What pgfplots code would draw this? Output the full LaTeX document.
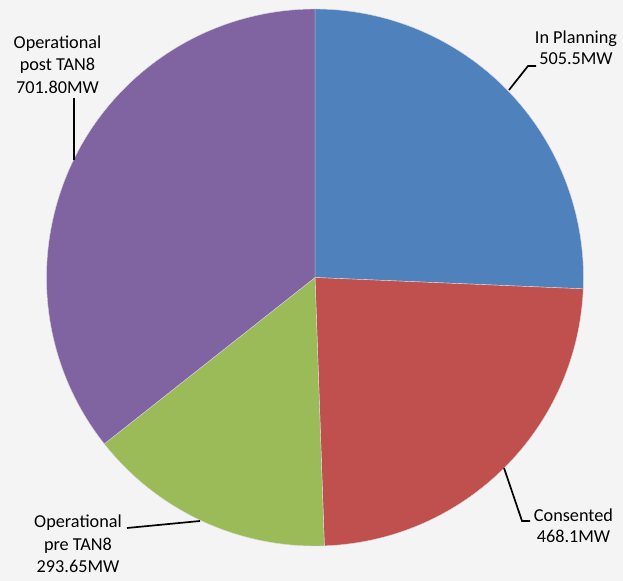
\documentclass[border=0pt]{standalone}
\usepackage{pgfplots}
\pgfplotsset{compat=1.18}
\usepackage{pgfplotstable}
\usepackage{fontspec}
\setmainfont{Carlito}

\definecolor{bgc}{HTML}{F4F4F4}
\definecolor{cPlan}{HTML}{4F81BD}
\definecolor{cCons}{HTML}{C0504D}
\definecolor{cPre}{HTML}{9BBB59}
\definecolor{cPost}{HTML}{8064A2}

% slices, clockwise from 12 o'clock
\pgfplotstableread{
label value
InPlanning 505.5
Consented 468.1
PreTAN8 293.65
PostTAN8 701.80
}\piedata
\pgfplotstablegetelem{0}{value}\of\piedata\let\vA\pgfplotsretval%
\pgfplotstablegetelem{1}{value}\of\piedata\let\vB\pgfplotsretval%
\pgfplotstablegetelem{2}{value}\of\piedata\let\vC\pgfplotsretval%
\pgfplotstablegetelem{3}{value}\of\piedata\let\vD\pgfplotsretval%
\pgfmathsetmacro\total{\vA+\vB+\vC+\vD}%
\pgfmathsetmacro\aA{90-360*(\vA/\total)}%
\pgfmathsetmacro\aB{\aA-360*(\vB/\total)}%
\pgfmathsetmacro\aC{\aB-360*(\vC/\total)}%
\pgfmathsetmacro\aD{\aC-360*(\vD/\total)}%
\def\R{268.5bp}

\begin{document}
\begin{tikzpicture}
\begin{axis}[axis lines=none, xtick=\empty, ytick=\empty,
  scale only axis, width=623bp, height=581bp,
  xmin=0, xmax=623, ymin=0, ymax=581, clip=false]
\fill[bgc] (axis cs:0,0) rectangle (axis cs:623,581);
\begin{scope}[draw=white!70!gray, line width=0.4pt]
\filldraw[fill=cPlan] (axis cs:315,303.5) -- ++(90:\R) arc[start angle=90, end angle=\aA, radius=\R] -- cycle;
\filldraw[fill=cCons] (axis cs:315,303.5) -- ++(\aA:\R) arc[start angle=\aA, end angle=\aB, radius=\R] -- cycle;
\filldraw[fill=cPre] (axis cs:315,303.5) -- ++(\aB:\R) arc[start angle=\aB, end angle=\aC, radius=\R] -- cycle;
\filldraw[fill=cPost] (axis cs:315,303.5) -- ++(\aC:\R) arc[start angle=\aC, end angle=\aD, radius=\R] -- cycle;
\end{scope}
% leader lines
\draw[black, line width=1.7pt] (axis cs:74,483) -- (axis cs:74,421);
\draw[black, line width=1.7pt] (axis cs:509,491) -- (axis cs:528,515) -- (axis cs:536,515);
\draw[black, line width=1.7pt] (axis cs:504,113) -- (axis cs:522,60) -- (axis cs:530,60);
\draw[black, line width=1.7pt] (axis cs:127,53) -- (axis cs:200,60);
% labels
\tikzset{lbl/.style={anchor=base, inner sep=0pt, font=\fontsize{18.3}{22}\selectfont}}
\node[lbl] at (axis cs:57.5,532.5) {Operational};
\node[lbl] at (axis cs:57.5,510) {post TAN8};
\node[lbl] at (axis cs:57.5,487.5) {701.80MW};
\node[lbl] at (axis cs:576,537) {In Planning};
\node[lbl] at (axis cs:576,516) {505.5MW};
\node[lbl] at (axis cs:573.5,59) {Consented};
\node[lbl] at (axis cs:573.5,38) {468.1MW};
\node[lbl] at (axis cs:78,53) {Operational};
\node[lbl] at (axis cs:78,31) {pre TAN8};
\node[lbl] at (axis cs:78,9) {293.65MW};
\end{axis}
\pgfresetboundingbox
\path[use as bounding box] (current axis.south west) rectangle (current axis.north east);
\end{tikzpicture}
\end{document}
